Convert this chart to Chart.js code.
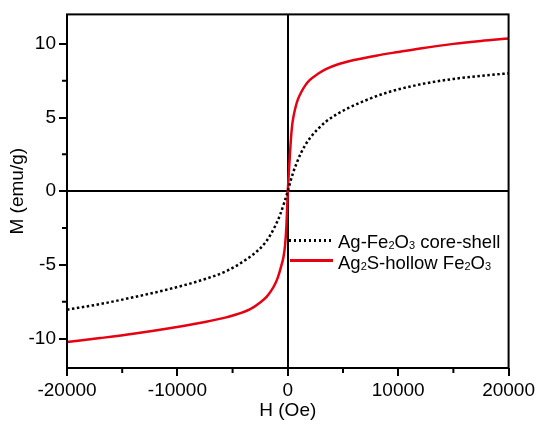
<!DOCTYPE html>
<html>
<head>
<meta charset="utf-8">
<script src="https://cdn.jsdelivr.net/npm/chart.js@4/dist/chart.umd.min.js"></script>
<style>
  html, body { margin: 0; padding: 0; background: #fff; }
  #wrap { position: relative; width: 538px; height: 424px; }
  canvas { display: block; }
  .lg { position: absolute; font-family: 'Liberation Sans', Arial, sans-serif; font-size: 18.5px; line-height: 20px; color: #000; white-space: nowrap; }
  .lg sub { font-size: 11px; vertical-align: -1px; line-height: 0; }
  .sw { position: absolute; }
</style>
</head>
<body>
<div id="wrap">
  <canvas id="c" width="538" height="424"></canvas>
  <div class="sw" id="sw1" style="left:289px; top:239px; width:43px; height:2.5px; background: repeating-linear-gradient(90deg, #000 0 2.5px, transparent 2.5px 5px);"></div>
  <div class="lg" style="left:338px; top:232px;">Ag-Fe<sub>2</sub>O<sub>3</sub> core-shell</div>
  <div class="sw" id="sw2" style="left:290px; top:259px; width:43px; height:2.5px; background:#e60012;"></div>
  <div class="lg" style="left:338px; top:252.5px;">Ag<sub>2</sub>S-hollow Fe<sub>2</sub>O<sub>3</sub></div>
</div>
<script>
// ---- data ----
const coreShellH = [-20000,-17000,-14000,-11000,-8000,-5500,-3700,-2600,-2000,-1600,-1200,-700,-300,0,200,500,800,1200,1600,2000,2700,3500,4500,5500,7000,9000,12000,15000,17500,20000];
const coreShellM = [-8.04,-7.66,-7.2,-6.69,-6.08,-5.4,-4.6,-3.95,-3.45,-3.0,-2.45,-1.6,-0.72,0,0.55,1.3,1.9,2.6,3.15,3.6,4.2,4.75,5.25,5.65,6.15,6.7,7.25,7.62,7.83,8.0];
const hollowH = [-20000,-17000,-14000,-11000,-8000,-5500,-3400,-2500,-1900,-1500,-1150,-900,-600,-400,-250,-120,0,100,200,300,400,500,700,900,1200,1600,2000,2700,3500,4500,6000,8000,10000,12000,15000,17500,20000];
const hollowM = [-10.24,-9.97,-9.68,-9.34,-8.94,-8.55,-8.0,-7.55,-7.15,-6.75,-6.3,-5.85,-5.1,-4.5,-3.7,-2.3,0,1.3,2.6,3.7,4.5,5.0,5.7,6.2,6.7,7.2,7.55,7.95,8.3,8.6,8.9,9.2,9.45,9.69,10.0,10.2,10.36];
const xTickValues = [-20000,-10000,0,10000,20000];
const xMinorValues = [-15000,-5000,5000,15000];
const yTickValues = [-10,-5,0,5,10];
const yMinorValues = [-7.5,-2.5,2.5,7.5];
const seriesNames = ['Ag-Fe2O3 core-shell', 'Ag2S-hollow Fe2O3'];

const toPts = (xs, ys) => xs.map((x, i) => ({x: x, y: ys[i]}));
const FONT = "'Liberation Sans', Arial, sans-serif";

const framePlugin = {
  id: 'frame',
  afterDatasetsDraw(chart) {
    const ctx = chart.ctx, a = chart.chartArea;
    const xs = chart.scales.x, ys = chart.scales.y;
    ctx.save();
    ctx.strokeStyle = '#000';
    ctx.lineWidth = 2;
    ctx.strokeRect(a.left, a.top, a.right - a.left, a.bottom - a.top);
    ctx.beginPath();
    xMinorValues.forEach(v => {
      const px = xs.getPixelForValue(v);
      ctx.moveTo(px, a.bottom); ctx.lineTo(px, a.bottom + 5);
    });
    yMinorValues.forEach(v => {
      const py = ys.getPixelForValue(v);
      ctx.moveTo(a.left, py); ctx.lineTo(a.left - 5, py);
    });
    ctx.stroke();
    ctx.restore();
  }
};

const gridCfg = {
  drawOnChartArea: true,
  color: c => (c.tick && c.tick.value === 0) ? '#000' : 'rgba(0,0,0,0)',
  lineWidth: 2,
  drawTicks: true,
  tickLength: 8,
  tickColor: '#000',
  tickWidth: 2
};

new Chart(document.getElementById('c'), {
  type: 'line',
  data: {
    datasets: [
      {
        label: seriesNames[0],
        data: toPts(coreShellH, coreShellM),
        borderColor: '#000',
        borderWidth: 2.5,
        borderDash: [2.5, 2.5],
        pointRadius: 0,
        cubicInterpolationMode: 'monotone',
        fill: false
      },
      {
        label: seriesNames[1],
        data: toPts(hollowH, hollowM),
        borderColor: '#e60012',
        borderWidth: 2.5,
        pointRadius: 0,
        cubicInterpolationMode: 'monotone',
        fill: false
      }
    ]
  },
  options: {
    responsive: false,
    animation: false,
    devicePixelRatio: 1,
    layout: { padding: { left: 0, top: 14, right: 29, bottom: 0 } },
    plugins: { legend: { display: false }, tooltip: { enabled: false } },
    scales: {
      x: {
        type: 'linear',
        min: -20000, max: 20000,
        afterBuildTicks: ax => { ax.ticks = xTickValues.map(v => ({value: v})); },
        afterFit: s => { s.height = 56; },
        grid: gridCfg,
        border: { display: false },
        ticks: { autoSkip: false, maxRotation: 0, padding: 3, color: '#000', font: { family: FONT, size: 19 }, callback: v => String(v) },
        title: { display: true, text: 'H (Oe)', color: '#000', font: { family: FONT, size: 19 }, padding: { top: 0, bottom: 2 } }
      },
      y: {
        type: 'linear',
        min: -12, max: 12,
        afterBuildTicks: ax => { ax.ticks = yTickValues.map(v => ({value: v})); },
        afterFit: s => { s.width = 67; },
        grid: gridCfg,
        border: { display: false },
        ticks: { padding: 3, color: '#000', font: { family: FONT, size: 19 }, callback: v => String(v) },
        title: { display: true, text: 'M (emu/g)', color: '#000', font: { family: FONT, size: 19 }, padding: { top: 6, bottom: 0 } }
      }
    }
  },
  plugins: [framePlugin]
});
</script>
</body>
</html>
